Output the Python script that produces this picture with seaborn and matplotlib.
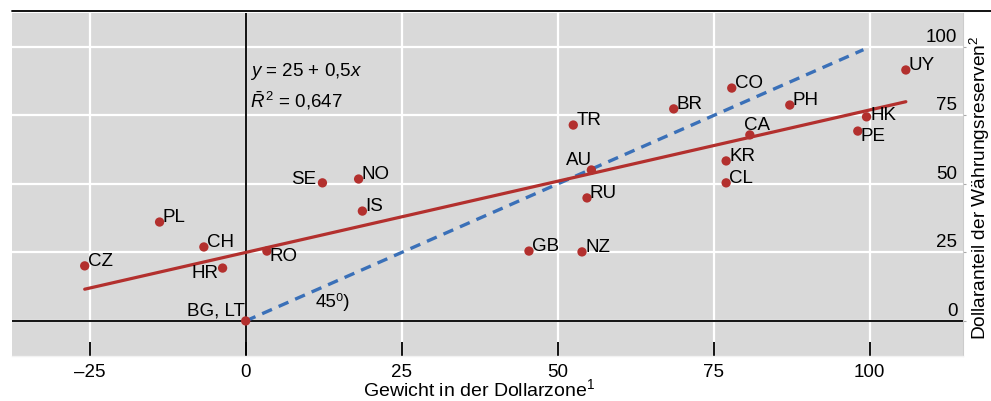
# Dollar zone weight vs. dollar share of FX reserves, with regression and 45 degree line.

import matplotlib
matplotlib.use('Agg')
import matplotlib.pyplot as plt
import matplotlib.transforms as mtransforms
from matplotlib.lines import Line2D
import seaborn as sns
import pandas as pd

# Data.
countries = ['CZ', 'PL', 'CH', 'HR', 'RO', 'BG, LT', 'SE', 'NO', 'IS', 'GB',
             'NZ', 'TR', 'AU', 'RU', 'BR', 'CO', 'PH', 'CA', 'KR', 'CL',
             'HK', 'PE', 'UY']
dollar_weight = [-25.8, -13.8, -6.7, -3.7, 3.4, 0.0, 12.3, 18.1, 18.7, 45.4,
                 53.9, 52.5, 55.4, 54.7, 68.6, 77.9, 87.2, 80.8, 77.0, 77.0,
                 99.5, 98.1, 105.8]
dollar_share = [20.1, 36.1, 27.0, 19.3, 25.5, 0.0, 50.4, 51.8, 40.1, 25.5,
                25.2, 71.5, 55.1, 44.9, 77.4, 85.0, 78.8, 67.9, 58.4, 50.4,
                74.5, 69.3, 91.6]
# Regression line as drawn in the picture
fit_intercept = 25.0
fit_slope = 0.52
diag_x = [0, 99]
diag_y = [0, 99]
x_ticks = [-25, 0, 25, 50, 75, 100]
y_ticks = [0, 25, 50, 75, 100]

df = pd.DataFrame({'land': countries, 'x': dollar_weight, 'y': dollar_share})
fit_x = [min(dollar_weight), max(dollar_weight)]
fit_y = [fit_intercept + fit_slope * v for v in fit_x]

# Label placement: (ha, va, dx, dy) in pixels.
place = {'HR': ('right', 'top', -4, 3), 'RO': ('left', 'top', 3, 3),
         'BG, LT': ('right', 'baseline', -1, 5), 'SE': ('right', 'baseline', -6, -1),
         'AU': ('right', 'baseline', 1, 5), 'CA': ('left', 'baseline', -6, 5),
         'HK': ('left', 'baseline', 4, -3), 'PE': ('left', 'top', 3, 3)}

red = '#b3302e'
blue = '#3a70b8'
fs = 13.5

sns.set_style('darkgrid', {'axes.facecolor': '#d9d9d9', 'grid.color': 'white'})
plt.rcParams['font.family'] = ['Liberation Sans', 'DejaVu Sans']
plt.rcParams['mathtext.fontset'] = 'custom'
plt.rcParams['mathtext.rm'] = 'Liberation Sans'
plt.rcParams['mathtext.it'] = 'Liberation Sans:italic'
plt.rcParams['text.color'] = 'black'
plt.rcParams['xtick.color'] = 'black'

fig = plt.figure(figsize=(9.91, 4.01), dpi=100)
ax = fig.add_axes([0.0118, 0.1122, 0.9602, 0.8554])

ax.axhline(0, color='black', lw=1.3, zorder=1)
ax.axvline(0, color='black', lw=1.3, zorder=1)

sns.lineplot(x=diag_x, y=diag_y, ax=ax, color=blue, lw=2.4, zorder=2)
ax.lines[-1].set_linestyle((0, (3.2, 2.2)))
sns.lineplot(x=fit_x, y=fit_y, ax=ax, color=red, lw=2.3, zorder=3)
sns.scatterplot(data=df, x='x', y='y', ax=ax, color=red, s=45,
                edgecolor='none', zorder=4)

for name, xv, yv in zip(countries, dollar_weight, dollar_share):
    ha, va, dx, dy = place.get(name, ('left', 'baseline', 3, 0))
    ax.annotate(name, (xv, yv), xytext=(dx, dy), textcoords='offset pixels',
                ha=ha, va=va, fontsize=fs, zorder=5)

ax.text(0.7, 89.4, r'$y$ = 25 + 0,5$x$', fontsize=fs, va='baseline')
ax.text(0.7, 77.8, r'$\bar{R}^{\,2}$ = 0,647', fontsize=fs, va='baseline')
ax.text(11.2, 5.0, '45\u2070)', fontsize=fs, va='baseline')

ax.set_xlim(-37.5, 115.0)
ax.set_ylim(-12.8, 112.4)
ax.set_xticks(x_ticks)
ax.set_xticklabels(['\u201325' if t < 0 else str(t) for t in x_ticks])
ax.set_yticks(y_ticks)
ax.set_yticklabels([])
ax.set_xlabel('')
ax.set_ylabel('')
ax.tick_params(axis='x', direction='in', length=10, width=1.3, color='black',
               pad=5.4, labelsize=fs, bottom=True)
ax.tick_params(axis='y', left=False, right=True, length=2, color='#aaaaaa')

# y tick labels inside the plot, just above their grid lines
trans = mtransforms.blended_transform_factory(ax.transAxes, ax.transData)
for t in y_ticks:
    ax.annotate(str(t), (1, t), xycoords=trans, xytext=(-6, 5),
                textcoords='offset pixels', ha='right', va='baseline',
                fontsize=fs)

ax.grid(True, lw=1.6)
for s in ['left', 'top']:
    ax.spines[s].set_visible(False)
ax.spines['right'].set_visible(True)
ax.spines['right'].set_color('#cccccc')
ax.spines['right'].set_linewidth(0.8)
ax.spines['bottom'].set_visible(True)
ax.spines['bottom'].set_color('#f2f2f2')
ax.spines['bottom'].set_linewidth(1.0)

# axis titles
fig.text(0.484, 1 - 396.5 / 401, 'Gewicht in der Dollarzone$^1$', fontsize=14,
         ha='center', va='baseline')
fig.text(979.5 / 991, 1 - 187.5 / 401, 'Dollaranteil der W\u00e4hrungsreserven$^2$',
         fontsize=13.8, rotation=90, ha='center', va='center')

fig.add_artist(Line2D([0.0118, 1.0], [1 - 11 / 401, 1 - 11 / 401],
                      color='black', lw=1.3))

fig.savefig('out.png', dpi=100)
